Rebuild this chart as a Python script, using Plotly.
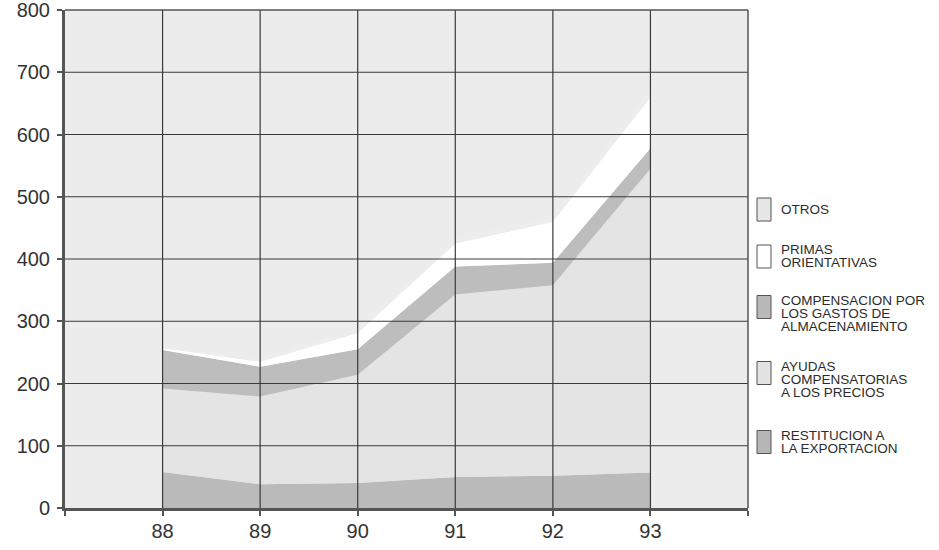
import plotly.graph_objects as go

# ---- data ----
years = [88, 89, 90, 91, 92, 93]
year_labels = ["88", "89", "90", "91", "92", "93"]
restitucion = [58, 38, 40, 50, 52, 57]
ayudas = [134, 141, 174, 293, 306, 488]
compensacion = [62, 48, 41, 45, 36, 33]
primas = [3, 8, 26, 37, 66, 82]
otros = [5, 5, 8, 10, 10, 12]
y_ticks = [0, 100, 200, 300, 400, 500, 600, 700, 800]

series_names = [
    "RESTITUCION A<br>LA EXPORTACION",
    "AYUDAS<br>COMPENSATORIAS<br>A LOS PRECIOS",
    "COMPENSACION POR<br>LOS GASTOS DE<br>ALMACENAMIENTO",
    "PRIMAS<br>ORIENTATIVAS",
    "OTROS",
]
series_values = [restitucion, ayudas, compensacion, primas, otros]
series_colors = ["#bababa", "#e4e4e4", "#bdbdbd", "#ffffff", "#ededed"]
legend_colors = ["#b5b5b5", "#e2e2e2", "#b9b9b9", "#ffffff", "#e6e6e6"]

# ---- layout geometry ----
W, H = 939, 550
L, R, T, B = 65, 191, 10, 42
PW, PH = W - L - R, H - T - B

def px_x(px):
    return (px - L) / PW

def px_y(py):
    return (H - B - py) / PH

fig = go.Figure()
for name, vals, col in zip(series_names, series_values, series_colors):
    fig.add_trace(go.Scatter(
        x=years, y=vals, name=name.replace("<br>", " "),
        mode="lines", line=dict(width=0, color=col),
        fillcolor=col, stackgroup="one", showlegend=False,
        hoverinfo="skip",
    ))

shapes = []
# gridlines drawn above fills
for xv in years:
    shapes.append(dict(type="line", xref="x", yref="paper", x0=xv, x1=xv, y0=0, y1=1,
                       line=dict(color="#3a3a3a", width=1.2), layer="above"))
for yv in y_ticks[1:-1]:
    shapes.append(dict(type="line", xref="paper", yref="y", x0=0, x1=1, y0=yv, y1=yv,
                       line=dict(color="#3a3a3a", width=1.2), layer="above"))
# top and right frame
shapes.append(dict(type="line", xref="paper", yref="paper", x0=0, x1=1, y0=1, y1=1,
                   line=dict(color="#555555", width=1.5), layer="above"))
shapes.append(dict(type="line", xref="paper", yref="paper", x0=1, x1=1, y0=0, y1=1,
                   line=dict(color="#555555", width=1.5), layer="above"))

# custom legend (bottom series first): (square top px, first line centre px)
legend_layout = [
    (430.5, 435.0),
    (361.5, 366.0),
    (295.5, 300.0),
    (245.0, 249.5),
    (198.0, 209.0),
]
annotations = []
sq_x0, sq_x1, txt_x = 757, 771, 779
line_gap = 13.2
for name, col, (sq_top, first_c) in zip(series_names, legend_colors, legend_layout):
    lines = name.split("<br>")
    sq_bot = sq_top + 23
    shapes.append(dict(type="rect", xref="paper", yref="paper",
                       x0=px_x(sq_x0), x1=px_x(sq_x1), y0=px_y(sq_bot), y1=px_y(sq_top),
                       fillcolor=col, line=dict(color="#555555", width=1)))
    for i, ln in enumerate(lines):
        annotations.append(dict(
            xref="paper", yref="paper", x=px_x(txt_x), y=px_y(first_c + i * line_gap),
            text=ln, showarrow=False, xanchor="left", yanchor="middle",
            font=dict(family="Liberation Sans, Arial, sans-serif", size=13.5, color="#2c2c2c"),
        ))

fig.update_layout(
    width=W, height=H,
    margin=dict(l=L, r=R, t=T, b=B, autoexpand=False),
    paper_bgcolor="#ffffff",
    plot_bgcolor="#ececec",
    shapes=shapes,
    annotations=annotations,
    showlegend=False,
    font=dict(family="Liberation Sans, Arial, sans-serif", color="#333333"),
)
fig.update_xaxes(
    range=[87, 94], tickvals=[87] + years + [94], ticktext=[""] + year_labels + [""],
    showgrid=False, zeroline=False, showline=True, linewidth=3, linecolor="#555555",
    ticks="outside", ticklen=5, tickwidth=2, tickcolor="#555555",
    ticklabelstandoff=-2, ticklabeloverflow="allow",
    tickfont=dict(size=20, color="#333333"), automargin=False,
)
fig.update_yaxes(
    range=[0, 800], tickvals=y_ticks,
    showgrid=False, zeroline=False, showline=True, linewidth=3, linecolor="#555555",
    ticks="outside", ticklen=5, tickwidth=2, tickcolor="#555555",
    ticklabelstandoff=3, ticklabeloverflow="allow",
    tickfont=dict(size=20, color="#333333"), automargin=False,
)

fig.write_html("out.html", config={"displayModeBar": False},
               post_script="document.body.style.margin='0px';")
